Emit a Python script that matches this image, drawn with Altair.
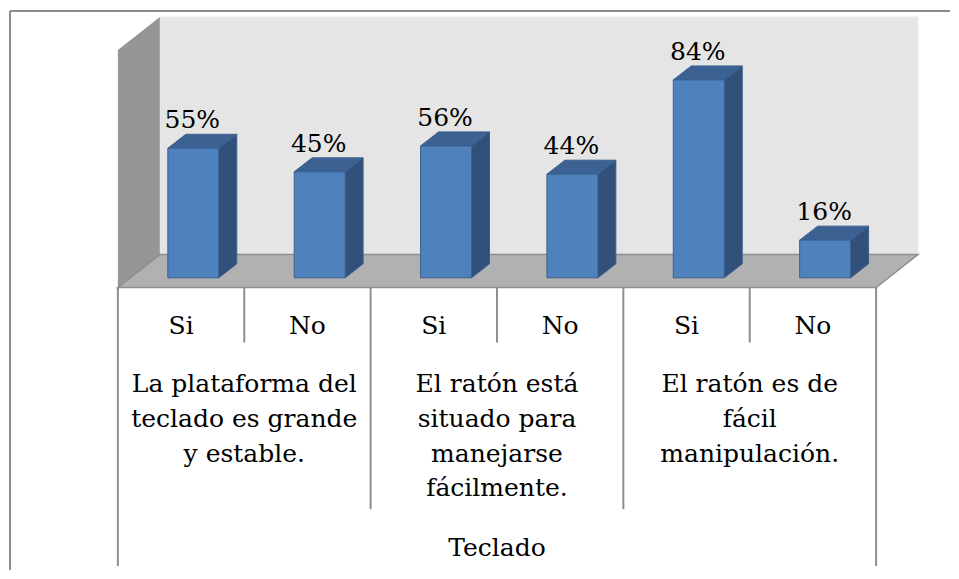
import altair as alt
import pandas as pd

# ---------------- data ----------------
respuestas = ["Si", "No", "Si", "No", "Si", "No"]
valores = [55, 45, 56, 44, 84, 16]
preguntas = [
    "La plataforma del\nteclado es grande\ny estable.",
    "El ratón está\nsituado para\nmanejarse\nfácilmente.",
    "El ratón es de\nfácil\nmanipulación.",
]
grupo = "Teclado"

# ---------------- layout (styling constants) ----------------
W, H = 943, 563
CELL = 126.5
X0 = 110.0
Y0 = 270.3
PPP = 2.36
FONT = "DejaVu Serif"
FS = 25

def ux(px):
    return (px - 8 - X0) / CELL

def uy(py):
    return ((Y0 + 8) - py) / PPP

xdom = [ux(8), ux(8 + W)]
ydom = [uy(8 + H), uy(8)]
xs = alt.Scale(domain=xdom, nice=False, zero=False)
ys = alt.Scale(domain=ydom, nice=False, zero=False)

def X(f="x"):
    return alt.X(f"{f}:Q", scale=xs, axis=None)

def Y(f="y"):
    return alt.Y(f"{f}:Q", scale=ys, axis=None)

GRAY_LINE = "#8E8E8E"

n = len(valores)
floor_dx = 42 / CELL
floor_dy = 33 / PPP
front_y = uy(288)
back_y = front_y + floor_dy
wall_top_back = uy(17)
wall_top_front = wall_top_back - floor_dy

back_wall = alt.Chart(pd.DataFrame({
    "x": [floor_dx], "x2": [n + floor_dx], "y": [back_y], "y2": [wall_top_back]
})).mark_rect(fill="#E5E5E5", stroke="#EDEDED", strokeWidth=1).encode(
    x=X("x"), x2="x2:Q", y=Y("y"), y2="y2:Q")

left_wall = alt.Chart(pd.DataFrame({
    "x": [0, floor_dx], "y": [wall_top_front, wall_top_back], "y2": [front_y, back_y]
})).mark_area(fill="#969696").encode(x=X("x"), y=Y("y"), y2="y2:Q")

floor = alt.Chart(pd.DataFrame({
    "y": [front_y, back_y], "x": [0, floor_dx], "x2": [n, n + floor_dx]
})).mark_area(orient="horizontal", fill="#B1B1B1", stroke=GRAY_LINE, strokeWidth=1.5).encode(
    y=Y("y"), x=X("x"), x2="x2:Q")

bar_l = 50 / CELL
bar_w = 51 / CELL
bdx = 18 / CELL
bdy = 14 / PPP

front_rows, side_rows, top_rows, lab_rows = [], [], [], []
for i, v in enumerate(valores):
    l = i + bar_l
    r = l + bar_w
    front_rows.append({"x": l, "x2": r, "y": 0, "y2": v})
    side_rows += [{"bar": i, "x": r, "y": v, "y2": 0},
                  {"bar": i, "x": r + bdx, "y": v + bdy, "y2": bdy}]
    top_rows += [{"bar": i, "y": v, "x": l, "x2": r},
                 {"bar": i, "y": v + bdy, "x": l + bdx, "x2": r + bdx}]
    lab_rows.append({"x": (l + r) / 2, "y": v + 20 / PPP, "t": f"{v}%"})

BAR_STROKE = "#3A5F8E"
side = alt.Chart(pd.DataFrame(side_rows)).mark_area(
    fill="#31507A", stroke=BAR_STROKE, strokeWidth=1).encode(
    x=X("x"), y=Y("y"), y2="y2:Q", detail="bar:N")
top = alt.Chart(pd.DataFrame(top_rows)).mark_area(
    orient="horizontal", fill="#3C6294", stroke=BAR_STROKE, strokeWidth=1).encode(
    y=Y("y"), x=X("x"), x2="x2:Q", detail="bar:N")
front = alt.Chart(pd.DataFrame(front_rows)).mark_rect(
    fill="#4F81BD", stroke=BAR_STROKE, strokeWidth=1).encode(
    x=X("x"), x2="x2:Q", y=Y("y"), y2="y2:Q")
labels = alt.Chart(pd.DataFrame(lab_rows)).mark_text(
    font=FONT, fontSize=FS, baseline="alphabetic", align="center", dx=-1, color="black").encode(
    x=X("x"), y=Y("y"), text="t:N")

y_axis_top = front_y
rules = []
for xv in [0, n]:
    rules.append({"x": xv, "x2": xv, "y": y_axis_top, "y2": uy(567)})
for xv in [2, 4]:
    rules.append({"x": xv, "x2": xv, "y": y_axis_top, "y2": uy(510)})
for xv in [1, 3, 5]:
    rules.append({"x": xv, "x2": xv, "y": y_axis_top, "y2": uy(343)})
axis_rules = alt.Chart(pd.DataFrame(rules)).mark_rule(
    color=GRAY_LINE, strokeWidth=2).encode(x=X("x"), x2="x2:Q", y=Y("y"), y2="y2:Q")

resp_txt = alt.Chart(pd.DataFrame({
    "x": [i + 0.5 for i in range(n)], "y": [uy(335)] * n, "t": respuestas
})).mark_text(font=FONT, fontSize=FS, baseline="alphabetic", align="center", color="black").encode(
    x=X("x"), y=Y("y"), text="t:N")

preg_txt = alt.Chart(pd.DataFrame({
    "x": [1, 3, 5], "y": [uy(393)] * 3, "t": preguntas
})).mark_text(font=FONT, fontSize=FS, baseline="alphabetic", align="center",
              lineBreak="\n", lineHeight=34.7, color="black").encode(
    x=X("x"), y=Y("y"), text="t:N")

grupo_txt = alt.Chart(pd.DataFrame({
    "x": [n / 2], "y": [uy(557)], "t": [grupo]
})).mark_text(font=FONT, fontSize=FS, baseline="alphabetic", align="center", color="black").encode(
    x=X("x"), y=Y("y"), text="t:N")

border = alt.Chart(pd.DataFrame([
    {"x": ux(10), "x2": xdom[1], "y": uy(11), "y2": uy(11)},
    {"x": ux(10), "x2": ux(10), "y": uy(11), "y2": ydom[0]},
])).mark_rule(color="#8C8C8C", strokeWidth=2).encode(
    x=X("x"), x2="x2:Q", y=Y("y"), y2="y2:Q")

chart = alt.layer(
    border, back_wall, left_wall, floor, side, top, front, labels,
    axis_rules, resp_txt, preg_txt, grupo_txt
).properties(
    width=W, height=H, padding=0,
    autosize=alt.AutoSizeParams(type="fit", contains="padding"),
    background="white",
).configure_view(stroke=None)

chart.save("out.html", embed_options={"renderer": "svg", "actions": False})
